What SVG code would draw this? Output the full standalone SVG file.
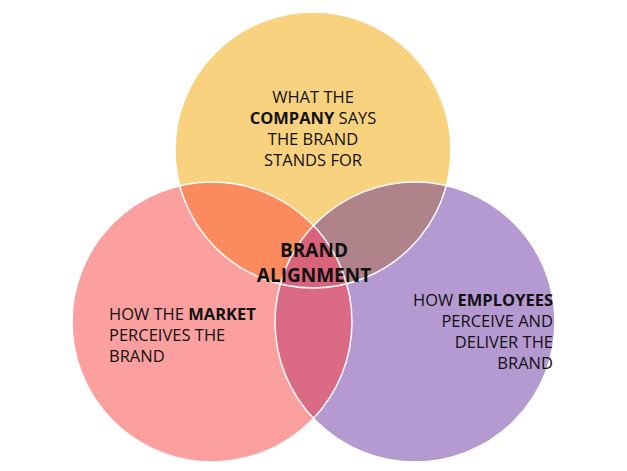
<svg xmlns="http://www.w3.org/2000/svg" width="627" height="471" viewBox="0 0 627 471">
<style>
text{font-family:"Open Sans","Noto Sans",sans-serif;font-size:16.5px;fill:#111}
.b{font-weight:bold}
.t{font-size:19px;font-weight:bold}
.o{fill:none;stroke:#fff;stroke-width:1.5}
</style>
<defs>
<clipPath id="cT"><circle cx="313" cy="150" r="138"/></clipPath>
<clipPath id="cL"><circle cx="212" cy="322" r="140"/></clipPath>
</defs>
<rect width="627" height="471" fill="#fff"/>
<g id="company"><circle cx="313" cy="150" r="138" fill="#F9D27F"/></g>
<g id="market"><circle cx="212" cy="322" r="140" fill="#FCA09F"/></g>
<g id="employees"><circle cx="415" cy="322" r="140" fill="#B599D1"/></g>
<g id="overlaps">
<circle cx="212" cy="322" r="140" fill="#FC8A5E" clip-path="url(#cT)"/>
<circle cx="415" cy="322" r="140" fill="#B0828A" clip-path="url(#cT)"/>
<circle cx="415" cy="322" r="140" fill="#DB6A84" clip-path="url(#cL)"/>
<g clip-path="url(#cT)"><circle cx="415" cy="322" r="140" fill="#D8637A" clip-path="url(#cL)"/></g>
</g>
<g id="connectors">
<circle class="o" cx="313" cy="150" r="138"/>
<circle class="o" cx="212" cy="322" r="140"/>
<circle class="o" cx="415" cy="322" r="140"/>
</g>
<g id="labels">
<text x="313" y="103" text-anchor="middle">WHAT THE</text>
<text x="313" y="124" text-anchor="middle"><tspan class="b">COMPANY</tspan> SAYS</text>
<text x="313" y="145" text-anchor="middle">THE BRAND</text>
<text x="313" y="166" text-anchor="middle">STANDS FOR</text>
<text x="314" y="257" text-anchor="middle" class="t">BRAND</text>
<text x="314" y="282" text-anchor="middle" class="t">ALIGNMENT</text>
<text x="109" y="320">HOW THE <tspan class="b">MARKET</tspan></text>
<text x="109" y="341">PERCEIVES THE</text>
<text x="109" y="362">BRAND</text>
<text x="553" y="306" text-anchor="end">HOW <tspan class="b">EMPLOYEES</tspan></text>
<text x="553" y="327" text-anchor="end">PERCEIVE AND</text>
<text x="553" y="348" text-anchor="end">DELIVER THE</text>
<text x="553" y="369" text-anchor="end">BRAND</text>
</g>
</svg>
